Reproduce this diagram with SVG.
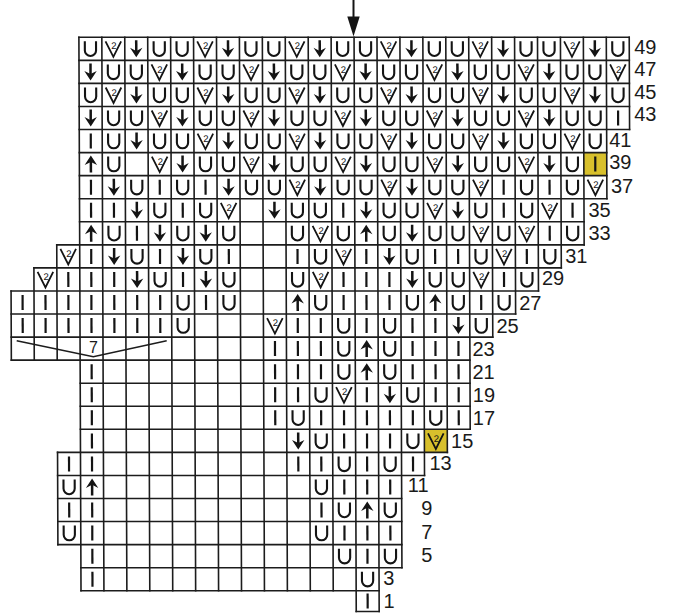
<svg xmlns="http://www.w3.org/2000/svg" width="673" height="613" viewBox="0 0 673 613">
<style>
.g{fill:none;stroke:#1c1c1c;stroke-width:1.6;stroke-linecap:square}
.s{fill:none;stroke:#141414;stroke-width:2.1}
.f{fill:#141414}
.lbl{font-family:"Liberation Sans",Arial,sans-serif;font-size:20px;fill:#1a1a1a}
.two{font-family:"Liberation Sans",Arial,sans-serif;font-size:9.5px;fill:#141414}
.hl{fill:#d8c02c}
</style>
<defs>
<g id="u"><path class="s" d="M-5.6,-7.5V1.6A5.6,5.6 0 0 0 5.6,1.6V-7.5"/></g>
<g id="i"><path class="s" d="M0,-7.5V7.5" style="stroke-width:2.2"/></g>
<g id="d"><path class="s" d="M0,-8.5V3" style="stroke-width:2.5"/><path class="f" d="M-6.2,-1L0,8.5L6.2,-1L0,2.2Z"/></g>
<g id="a"><path class="s" d="M0,8.5V-3" style="stroke-width:2.5"/><path class="f" d="M-6.2,1L0,-8.5L6.2,1L0,-2.2Z"/></g>
<g id="v"><path class="s" d="M-7.8,-7.5L0,8L7.8,-7.5" style="stroke-width:1.8"/><text class="two" x="0.6" y="0.6" text-anchor="middle">2</text></g>
</defs>
<rect width="673" height="613" fill="#ffffff"/>
<g id="arrow">
<path d="M353.5,0V19" stroke="#141414" stroke-width="2" fill="none"/>
<path d="M347.3,16.5L359.7,16.5L353.5,36.5Z" fill="#141414"/>
</g>
<g id="chart" transform="matrix(1 0 0.0038 1 -0.1417 0)">
<rect class="hl" x="583.36" y="152.6" width="22.93" height="23.06"/>
<rect class="hl" x="422.85" y="429.32" width="22.93" height="23.06"/>
<g id="connectors">
<path class="g" d="M78.9 37.3H629.22M78.9 60.36H629.22M78.9 83.42H629.22M78.9 106.48H629.22M78.9 129.54H629.22M78.9 152.6H606.29M78.9 175.66H606.29M78.9 198.72H606.29M78.9 221.78H583.36M55.97 244.84H583.36M33.04 267.9H560.43M10.11 290.96H537.5M10.11 314.02H514.57M10.11 337.08H491.64M10.11 360.14H468.71M78.9 383.2H468.71M78.9 406.26H468.71M78.9 429.32H468.71M55.97 452.38H445.78M55.97 475.44H422.85M55.97 498.5H399.92M55.97 521.56H399.92M55.97 544.62H399.92M78.9 567.68H399.92M78.9 590.74H376.99M354.06 611.5H376.99"/>
<path class="g" d="M10.11 290.96V360.14M33.04 267.9V360.14M55.97 244.84V360.14M55.97 452.38V544.62M78.9 37.3V590.74M101.83 37.3V590.74M124.76 37.3V590.74M147.69 37.3V590.74M170.62 37.3V590.74M193.55 37.3V590.74M216.48 37.3V590.74M239.41 37.3V590.74M262.34 37.3V590.74M285.27 37.3V590.74M308.2 37.3V590.74M331.13 37.3V590.74M354.06 37.3V611.5M376.99 37.3V611.5M399.92 37.3V567.68M422.85 37.3V475.44M445.78 37.3V452.38M468.71 37.3V429.32M491.64 37.3V337.08M514.57 37.3V314.02M537.5 37.3V290.96M560.43 37.3V267.9M583.36 37.3V244.84M606.29 37.3V198.72M629.22 37.3V129.54"/>
</g>
<g id="row49" transform="translate(0,48.8)">
<use href="#u" x="90.4"/><use href="#v" x="113.3"/><use href="#d" x="136.2"/><use href="#u" x="159.2"/><use href="#u" x="182.1"/><use href="#v" x="205"/><use href="#d" x="228"/><use href="#u" x="250.9"/><use href="#u" x="273.8"/><use href="#v" x="296.7"/><use href="#d" x="319.7"/><use href="#u" x="342.6"/><use href="#u" x="365.5"/><use href="#v" x="388.5"/><use href="#d" x="411.4"/><use href="#u" x="434.3"/><use href="#u" x="457.3"/><use href="#v" x="480.2"/><use href="#d" x="503.1"/><use href="#u" x="526"/><use href="#u" x="549"/><use href="#v" x="571.9"/><use href="#d" x="594.8"/><use href="#u" x="617.8"/>
</g>
<g id="row47" transform="translate(0,71.9)">
<use href="#d" x="90.4"/><use href="#u" x="113.3"/><use href="#u" x="136.2"/><use href="#v" x="159.2"/><use href="#d" x="182.1"/><use href="#u" x="205"/><use href="#u" x="228"/><use href="#v" x="250.9"/><use href="#d" x="273.8"/><use href="#u" x="296.7"/><use href="#u" x="319.7"/><use href="#v" x="342.6"/><use href="#d" x="365.5"/><use href="#u" x="388.5"/><use href="#u" x="411.4"/><use href="#v" x="434.3"/><use href="#d" x="457.3"/><use href="#u" x="480.2"/><use href="#u" x="503.1"/><use href="#v" x="526"/><use href="#d" x="549"/><use href="#u" x="571.9"/><use href="#u" x="594.8"/><use href="#v" x="617.8"/>
</g>
<g id="row45" transform="translate(0,95)">
<use href="#u" x="90.4"/><use href="#v" x="113.3"/><use href="#d" x="136.2"/><use href="#u" x="159.2"/><use href="#u" x="182.1"/><use href="#v" x="205"/><use href="#d" x="228"/><use href="#u" x="250.9"/><use href="#u" x="273.8"/><use href="#v" x="296.7"/><use href="#d" x="319.7"/><use href="#u" x="342.6"/><use href="#u" x="365.5"/><use href="#v" x="388.5"/><use href="#d" x="411.4"/><use href="#u" x="434.3"/><use href="#u" x="457.3"/><use href="#v" x="480.2"/><use href="#d" x="503.1"/><use href="#u" x="526"/><use href="#u" x="549"/><use href="#v" x="571.9"/><use href="#d" x="594.8"/><use href="#u" x="617.8"/>
</g>
<g id="row43" transform="translate(0,118)">
<use href="#d" x="90.4"/><use href="#u" x="113.3"/><use href="#u" x="136.2"/><use href="#v" x="159.2"/><use href="#d" x="182.1"/><use href="#u" x="205"/><use href="#u" x="228"/><use href="#v" x="250.9"/><use href="#d" x="273.8"/><use href="#u" x="296.7"/><use href="#u" x="319.7"/><use href="#v" x="342.6"/><use href="#d" x="365.5"/><use href="#u" x="388.5"/><use href="#u" x="411.4"/><use href="#v" x="434.3"/><use href="#d" x="457.3"/><use href="#u" x="480.2"/><use href="#u" x="503.1"/><use href="#v" x="526"/><use href="#d" x="549"/><use href="#u" x="571.9"/><use href="#u" x="594.8"/><use href="#i" x="617.8"/>
</g>
<g id="row41" transform="translate(0,141.1)">
<use href="#i" x="90.4"/><use href="#u" x="113.3"/><use href="#d" x="136.2"/><use href="#u" x="159.2"/><use href="#u" x="182.1"/><use href="#v" x="205"/><use href="#d" x="228"/><use href="#u" x="250.9"/><use href="#u" x="273.8"/><use href="#v" x="296.7"/><use href="#d" x="319.7"/><use href="#u" x="342.6"/><use href="#u" x="365.5"/><use href="#v" x="388.5"/><use href="#d" x="411.4"/><use href="#u" x="434.3"/><use href="#u" x="457.3"/><use href="#v" x="480.2"/><use href="#d" x="503.1"/><use href="#u" x="526"/><use href="#u" x="549"/><use href="#v" x="571.9"/><use href="#u" x="594.8"/>
</g>
<g id="row39" transform="translate(0,164.1)">
<use href="#a" x="90.4"/><use href="#u" x="113.3"/><use href="#v" x="159.2"/><use href="#d" x="182.1"/><use href="#u" x="205"/><use href="#u" x="228"/><use href="#v" x="250.9"/><use href="#d" x="273.8"/><use href="#u" x="296.7"/><use href="#u" x="319.7"/><use href="#v" x="342.6"/><use href="#d" x="365.5"/><use href="#u" x="388.5"/><use href="#u" x="411.4"/><use href="#v" x="434.3"/><use href="#d" x="457.3"/><use href="#u" x="480.2"/><use href="#u" x="503.1"/><use href="#v" x="526"/><use href="#d" x="549"/><use href="#u" x="571.9"/><use href="#i" x="594.8"/>
</g>
<g id="row37" transform="translate(0,187.2)">
<use href="#i" x="90.4"/><use href="#d" x="113.3"/><use href="#u" x="136.2"/><use href="#i" x="159.2"/><use href="#u" x="182.1"/><use href="#i" x="205"/><use href="#d" x="228"/><use href="#u" x="250.9"/><use href="#u" x="273.8"/><use href="#v" x="296.7"/><use href="#d" x="319.7"/><use href="#u" x="342.6"/><use href="#u" x="365.5"/><use href="#v" x="388.5"/><use href="#d" x="411.4"/><use href="#u" x="434.3"/><use href="#u" x="457.3"/><use href="#v" x="480.2"/><use href="#i" x="503.1"/><use href="#u" x="526"/><use href="#i" x="549"/><use href="#u" x="571.9"/><use href="#v" x="594.8"/>
</g>
<g id="row35" transform="translate(0,210.3)">
<use href="#i" x="90.4"/><use href="#i" x="113.3"/><use href="#d" x="136.2"/><use href="#u" x="159.2"/><use href="#i" x="182.1"/><use href="#u" x="205"/><use href="#v" x="228"/><use href="#d" x="273.8"/><use href="#u" x="296.7"/><use href="#u" x="319.7"/><use href="#i" x="342.6"/><use href="#d" x="365.5"/><use href="#u" x="388.5"/><use href="#u" x="411.4"/><use href="#v" x="434.3"/><use href="#d" x="457.3"/><use href="#u" x="480.2"/><use href="#i" x="503.1"/><use href="#u" x="526"/><use href="#v" x="549"/><use href="#i" x="571.9"/>
</g>
<g id="row33" transform="translate(0,233.3)">
<use href="#a" x="90.4"/><use href="#u" x="113.3"/><use href="#i" x="136.2"/><use href="#d" x="159.2"/><use href="#u" x="182.1"/><use href="#d" x="205"/><use href="#u" x="228"/><use href="#u" x="296.7"/><use href="#v" x="319.7"/><use href="#u" x="342.6"/><use href="#a" x="365.5"/><use href="#u" x="388.5"/><use href="#d" x="411.4"/><use href="#u" x="434.3"/><use href="#u" x="457.3"/><use href="#v" x="480.2"/><use href="#u" x="503.1"/><use href="#v" x="526"/><use href="#i" x="549"/><use href="#u" x="571.9"/>
</g>
<g id="row31" transform="translate(0,256.4)">
<use href="#v" x="67.4"/><use href="#i" x="90.4"/><use href="#d" x="113.3"/><use href="#u" x="136.2"/><use href="#i" x="159.2"/><use href="#d" x="182.1"/><use href="#u" x="205"/><use href="#i" x="228"/><use href="#i" x="296.7"/><use href="#u" x="319.7"/><use href="#v" x="342.6"/><use href="#i" x="365.5"/><use href="#d" x="388.5"/><use href="#u" x="411.4"/><use href="#i" x="434.3"/><use href="#i" x="457.3"/><use href="#u" x="480.2"/><use href="#v" x="503.1"/><use href="#i" x="526"/><use href="#u" x="549"/>
</g>
<g id="row29" transform="translate(0,279.4)">
<use href="#v" x="44.5"/><use href="#i" x="67.4"/><use href="#i" x="90.4"/><use href="#i" x="113.3"/><use href="#d" x="136.2"/><use href="#u" x="159.2"/><use href="#i" x="182.1"/><use href="#d" x="205"/><use href="#u" x="228"/><use href="#u" x="296.7"/><use href="#v" x="319.7"/><use href="#i" x="342.6"/><use href="#i" x="365.5"/><use href="#i" x="388.5"/><use href="#d" x="411.4"/><use href="#u" x="434.3"/><use href="#u" x="457.3"/><use href="#v" x="480.2"/><use href="#i" x="503.1"/><use href="#u" x="526"/>
</g>
<g id="row27" transform="translate(0,302.5)">
<use href="#i" x="21.6"/><use href="#i" x="44.5"/><use href="#i" x="67.4"/><use href="#i" x="90.4"/><use href="#i" x="113.3"/><use href="#i" x="136.2"/><use href="#i" x="159.2"/><use href="#u" x="182.1"/><use href="#i" x="205"/><use href="#u" x="228"/><use href="#a" x="296.7"/><use href="#u" x="319.7"/><use href="#i" x="342.6"/><use href="#i" x="365.5"/><use href="#i" x="388.5"/><use href="#u" x="411.4"/><use href="#a" x="434.3"/><use href="#u" x="457.3"/><use href="#i" x="480.2"/><use href="#u" x="503.1"/>
</g>
<g id="row25" transform="translate(0,325.6)">
<use href="#i" x="21.6"/><use href="#i" x="44.5"/><use href="#i" x="67.4"/><use href="#i" x="90.4"/><use href="#i" x="113.3"/><use href="#i" x="136.2"/><use href="#i" x="159.2"/><use href="#u" x="182.1"/><use href="#v" x="273.8"/><use href="#i" x="296.7"/><use href="#i" x="319.7"/><use href="#u" x="342.6"/><use href="#i" x="365.5"/><use href="#u" x="388.5"/><use href="#i" x="411.4"/><use href="#i" x="434.3"/><use href="#d" x="457.3"/><use href="#u" x="480.2"/>
</g>
<g id="row23" transform="translate(0,348.6)">
<use href="#i" x="273.8"/><use href="#i" x="296.7"/><use href="#i" x="319.7"/><use href="#u" x="342.6"/><use href="#a" x="365.5"/><use href="#u" x="388.5"/><use href="#i" x="411.4"/><use href="#i" x="434.3"/><use href="#i" x="457.3"/>
</g>
<g id="row21" transform="translate(0,371.7)">
<use href="#i" x="90.4"/><use href="#i" x="273.8"/><use href="#i" x="296.7"/><use href="#i" x="319.7"/><use href="#u" x="342.6"/><use href="#a" x="365.5"/><use href="#u" x="388.5"/><use href="#i" x="411.4"/><use href="#i" x="434.3"/><use href="#i" x="457.3"/>
</g>
<g id="row19" transform="translate(0,394.7)">
<use href="#i" x="90.4"/><use href="#i" x="273.8"/><use href="#i" x="296.7"/><use href="#u" x="319.7"/><use href="#v" x="342.6"/><use href="#i" x="365.5"/><use href="#d" x="388.5"/><use href="#u" x="411.4"/><use href="#i" x="434.3"/><use href="#i" x="457.3"/>
</g>
<g id="row17" transform="translate(0,417.8)">
<use href="#i" x="90.4"/><use href="#i" x="273.8"/><use href="#u" x="296.7"/><use href="#i" x="319.7"/><use href="#i" x="342.6"/><use href="#i" x="365.5"/><use href="#i" x="388.5"/><use href="#i" x="411.4"/><use href="#u" x="434.3"/><use href="#i" x="457.3"/>
</g>
<g id="row15" transform="translate(0,440.9)">
<use href="#i" x="90.4"/><use href="#d" x="296.7"/><use href="#u" x="319.7"/><use href="#i" x="342.6"/><use href="#i" x="365.5"/><use href="#i" x="388.5"/><use href="#u" x="411.4"/><use href="#v" x="434.3"/>
</g>
<g id="row13" transform="translate(0,463.9)">
<use href="#i" x="67.4"/><use href="#i" x="90.4"/><use href="#i" x="296.7"/><use href="#i" x="319.7"/><use href="#u" x="342.6"/><use href="#i" x="365.5"/><use href="#u" x="388.5"/><use href="#i" x="411.4"/>
</g>
<g id="row11" transform="translate(0,487)">
<use href="#u" x="67.4"/><use href="#a" x="90.4"/><use href="#u" x="319.7"/><use href="#i" x="342.6"/><use href="#i" x="365.5"/><use href="#i" x="388.5"/>
</g>
<g id="row9" transform="translate(0,510)">
<use href="#i" x="67.4"/><use href="#i" x="90.4"/><use href="#i" x="319.7"/><use href="#u" x="342.6"/><use href="#a" x="365.5"/><use href="#u" x="388.5"/>
</g>
<g id="row7" transform="translate(0,533.1)">
<use href="#u" x="67.4"/><use href="#i" x="90.4"/><use href="#u" x="319.7"/><use href="#i" x="342.6"/><use href="#i" x="365.5"/><use href="#i" x="388.5"/>
</g>
<g id="row5" transform="translate(0,556.2)">
<use href="#i" x="90.4"/><use href="#u" x="342.6"/><use href="#i" x="365.5"/><use href="#u" x="388.5"/>
</g>
<g id="row3" transform="translate(0,579.2)">
<use href="#i" x="90.4"/><use href="#u" x="365.5"/>
</g>
<g id="row1" transform="translate(0,601.1)">
<use href="#i" x="365.5"/>
</g>
</g>
<g id="bracket">
<path d="M16.7,340.7L93.3,356.7L166.7,340.7" fill="none" stroke="#1c1c1c" stroke-width="1.5"/>
<text x="93.5" y="353.3" text-anchor="middle" style="font-family:'Liberation Sans',Arial,sans-serif;font-size:16px;fill:#1a1a1a">7</text>
</g>
<g id="labels" class="lbl">
<text x="634.2" y="53.5">49</text>
<text x="634.2" y="76">47</text>
<text x="634.2" y="99.3">45</text>
<text x="634.2" y="120.5">43</text>
<text x="609.2" y="146.7">41</text>
<text x="609.2" y="169.3">39</text>
<text x="610.9" y="193.3">37</text>
<text x="588.5" y="216.7">35</text>
<text x="588.5" y="240">33</text>
<text x="565.2" y="263.3">31</text>
<text x="541.9" y="285">29</text>
<text x="519.2" y="310">27</text>
<text x="496.5" y="333.3">25</text>
<text x="472.5" y="356">23</text>
<text x="472.5" y="379.3">21</text>
<text x="472.8" y="401.7">19</text>
<text x="472.8" y="425">17</text>
<text x="451.1" y="448.3">15</text>
<text x="429.5" y="470">13</text>
<text x="407.8" y="492">11</text>
<text x="421.2" y="515">9</text>
<text x="421.2" y="538.5">7</text>
<text x="421.2" y="561.7">5</text>
<text x="383.2" y="585">3</text>
<text x="383.5" y="607.7">1</text>
</g>
</svg>
